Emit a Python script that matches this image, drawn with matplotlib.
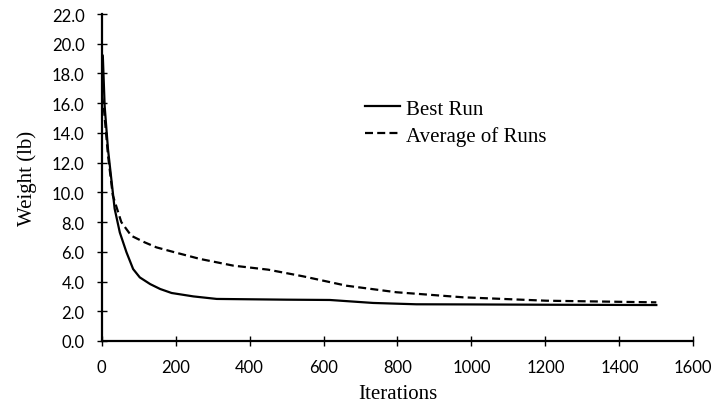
import matplotlib
matplotlib.use("Agg")
import matplotlib.pyplot as plt
from matplotlib.ticker import FormatStrFormatter

best_iter = [0, 3, 8, 17, 26, 35, 49, 67, 85, 103, 131, 158, 189, 248, 311, 500, 617, 734, 851, 1000, 1200, 1500]
best_vals = [19.3, 19.2, 15.8, 12.9, 10.9, 8.9, 7.3, 5.97, 4.84, 4.28, 3.83, 3.5, 3.23, 3.0, 2.83, 2.78, 2.76, 2.56, 2.47, 2.46, 2.44, 2.42]

avg_iter = [0, 5, 17, 30, 53, 80, 116, 148, 200, 266, 356, 450, 545, 662, 797, 977, 1203, 1500]
avg_vals = [16.5, 15.9, 12.5, 9.8, 8.0, 7.08, 6.64, 6.3, 5.95, 5.52, 5.07, 4.8, 4.35, 3.72, 3.28, 2.94, 2.71, 2.6]

x_ticks = [0, 200, 400, 600, 800, 1000, 1200, 1400, 1600]
y_ticks = [0, 2, 4, 6, 8, 10, 12, 14, 16, 18, 20, 22]

W, H = 712, 406
fig = plt.figure(figsize=(W / 100, H / 100), dpi=100)
ax = fig.add_axes([101.7 / W, 1 - 342 / H, (693.3 - 101.7) / W, (342 - 15) / H])

ax.plot(best_iter, best_vals, color="black", lw=1.6, solid_joinstyle="round", label="Best Run")
ax.plot(avg_iter, avg_vals, color="black", lw=1.6, dashes=(3.6, 1.9), label="Average of Runs")

ax.set_xlim(0, 1600)
ax.set_ylim(0, 22)
ax.set_xticks(x_ticks)
ax.set_yticks(y_ticks)
ax.yaxis.set_major_formatter(FormatStrFormatter("%.1f"))

for s in ["top", "right"]:
    ax.spines[s].set_visible(False)
for s in ["left", "bottom"]:
    ax.spines[s].set_linewidth(1.6)
    ax.spines[s].set_color("black")

tick_font = "Lato"
ax.tick_params(axis="both", direction="inout", length=7.5, width=1.0, color="black")
ax.tick_params(axis="y", pad=8.5)
ax.tick_params(axis="x", pad=9.5)
for lab in ax.get_xticklabels() + ax.get_yticklabels():
    lab.set_fontfamily(tick_font)
    lab.set_fontsize(12)

serif = ["Liberation Serif", "DejaVu Serif"]
ax.set_xlabel("Iterations", fontfamily=serif, fontsize=15, labelpad=6.5)
ax.set_ylabel("Weight (lb)", fontfamily=serif, fontsize=15, labelpad=11)

leg = ax.legend(loc="upper left", bbox_to_anchor=(365 / W, 1 - 100 / H),
                bbox_transform=fig.transFigure, frameon=False,
                prop={"family": serif, "size": 15},
                handlelength=1.7, handletextpad=0.25, borderpad=0, borderaxespad=0,
                labelspacing=0.35)

fig.savefig("out.png", dpi=100)
